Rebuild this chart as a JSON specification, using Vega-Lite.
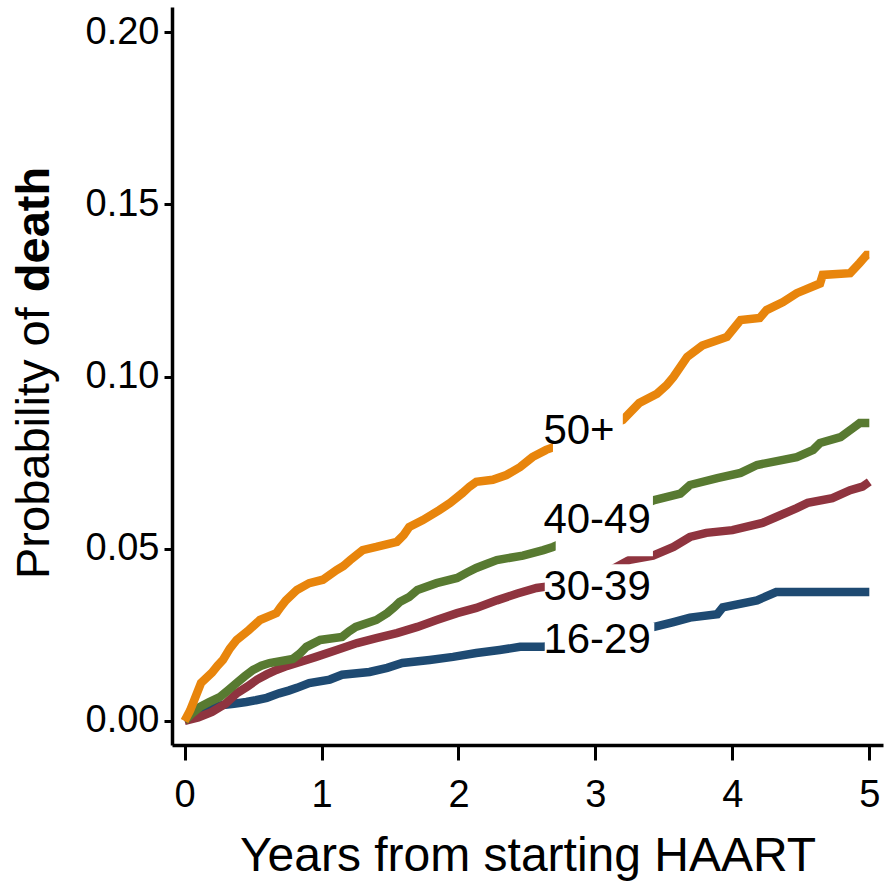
{
  "$schema": "https://vega.github.io/schema/vega-lite/v6.json",
  "width": 711,
  "height": 738,
  "autosize": {"type": "none"},
  "padding": {"left": 172, "top": 7, "right": 4, "bottom": 139},
  "background": "white",
  "config": {
    "view": {"stroke": null},
    "font": "Liberation Sans",
    "axis": {
      "grid": false,
      "domainColor": "black",
      "domainWidth": 3.5,
      "tickColor": "black",
      "tickWidth": 3,
      "labelColor": "black",
      "labelFont": "Liberation Sans",
      "labelFontSize": 38,
      "labelFlush": false,
      "labelOverlap": false,
      "titleFont": "Liberation Sans",
      "titleColor": "black",
      "titleFontWeight": "normal"
    }
  },
  "datasets": {
    "km": [
      {"group": "16-29", "t": 0, "p": 0},
      {"group": "16-29", "t": 0.05, "p": 0.0015},
      {"group": "16-29", "t": 0.13, "p": 0.003},
      {"group": "16-29", "t": 0.2, "p": 0.004},
      {"group": "16-29", "t": 0.28, "p": 0.0046},
      {"group": "16-29", "t": 0.36, "p": 0.005},
      {"group": "16-29", "t": 0.45, "p": 0.0055},
      {"group": "16-29", "t": 0.52, "p": 0.006},
      {"group": "16-29", "t": 0.6, "p": 0.0067},
      {"group": "16-29", "t": 0.69, "p": 0.008},
      {"group": "16-29", "t": 0.76, "p": 0.0088},
      {"group": "16-29", "t": 0.82, "p": 0.0096},
      {"group": "16-29", "t": 0.91, "p": 0.011},
      {"group": "16-29", "t": 1.06, "p": 0.012},
      {"group": "16-29", "t": 1.15, "p": 0.0134},
      {"group": "16-29", "t": 1.35, "p": 0.0142},
      {"group": "16-29", "t": 1.48, "p": 0.0154},
      {"group": "16-29", "t": 1.59, "p": 0.0168},
      {"group": "16-29", "t": 1.79, "p": 0.0177},
      {"group": "16-29", "t": 1.96, "p": 0.0186},
      {"group": "16-29", "t": 2.13, "p": 0.0197},
      {"group": "16-29", "t": 2.3, "p": 0.0206},
      {"group": "16-29", "t": 2.45, "p": 0.0215},
      {"group": "16-29", "t": 2.62, "p": 0.0215},
      {"group": "16-29", "t": 2.8, "p": 0.023},
      {"group": "16-29", "t": 3.0, "p": 0.024},
      {"group": "16-29", "t": 3.2, "p": 0.026},
      {"group": "16-29", "t": 3.43, "p": 0.0273},
      {"group": "16-29", "t": 3.57, "p": 0.0287},
      {"group": "16-29", "t": 3.69, "p": 0.03},
      {"group": "16-29", "t": 3.89, "p": 0.031},
      {"group": "16-29", "t": 3.93, "p": 0.033},
      {"group": "16-29", "t": 4.18, "p": 0.035},
      {"group": "16-29", "t": 4.32, "p": 0.0374},
      {"group": "16-29", "t": 5.0, "p": 0.0374},

      {"group": "30-39", "t": 0, "p": 0},
      {"group": "30-39", "t": 0.1, "p": 0.001},
      {"group": "30-39", "t": 0.2, "p": 0.0026},
      {"group": "30-39", "t": 0.3, "p": 0.005},
      {"group": "30-39", "t": 0.38, "p": 0.008},
      {"group": "30-39", "t": 0.46, "p": 0.01},
      {"group": "30-39", "t": 0.53, "p": 0.012},
      {"group": "30-39", "t": 0.6, "p": 0.0135},
      {"group": "30-39", "t": 0.67, "p": 0.0148},
      {"group": "30-39", "t": 0.75, "p": 0.016},
      {"group": "30-39", "t": 0.82, "p": 0.0168},
      {"group": "30-39", "t": 0.96, "p": 0.0186},
      {"group": "30-39", "t": 1.11, "p": 0.0206},
      {"group": "30-39", "t": 1.26, "p": 0.0226},
      {"group": "30-39", "t": 1.4, "p": 0.024},
      {"group": "30-39", "t": 1.55, "p": 0.0255},
      {"group": "30-39", "t": 1.7, "p": 0.0273},
      {"group": "30-39", "t": 1.84, "p": 0.0293},
      {"group": "30-39", "t": 1.99, "p": 0.0313},
      {"group": "30-39", "t": 2.13, "p": 0.0328},
      {"group": "30-39", "t": 2.28, "p": 0.035},
      {"group": "30-39", "t": 2.43, "p": 0.037},
      {"group": "30-39", "t": 2.57, "p": 0.0386},
      {"group": "30-39", "t": 2.64, "p": 0.039},
      {"group": "30-39", "t": 2.8, "p": 0.04},
      {"group": "30-39", "t": 3.0, "p": 0.042},
      {"group": "30-39", "t": 3.1, "p": 0.0435},
      {"group": "30-39", "t": 3.25, "p": 0.0468},
      {"group": "30-39", "t": 3.42, "p": 0.048},
      {"group": "30-39", "t": 3.57, "p": 0.0505},
      {"group": "30-39", "t": 3.69, "p": 0.0534},
      {"group": "30-39", "t": 3.81, "p": 0.0546},
      {"group": "30-39", "t": 4.0, "p": 0.0554},
      {"group": "30-39", "t": 4.22, "p": 0.0575},
      {"group": "30-39", "t": 4.32, "p": 0.0592},
      {"group": "30-39", "t": 4.47, "p": 0.0618},
      {"group": "30-39", "t": 4.55, "p": 0.0633},
      {"group": "30-39", "t": 4.73, "p": 0.0647},
      {"group": "30-39", "t": 4.86, "p": 0.067},
      {"group": "30-39", "t": 4.95, "p": 0.068},
      {"group": "30-39", "t": 5.0, "p": 0.0694},

      {"group": "40-49", "t": 0, "p": 0},
      {"group": "40-49", "t": 0.05, "p": 0.002},
      {"group": "40-49", "t": 0.11, "p": 0.004},
      {"group": "40-49", "t": 0.18, "p": 0.0055},
      {"group": "40-49", "t": 0.26, "p": 0.007},
      {"group": "40-49", "t": 0.32, "p": 0.009},
      {"group": "40-49", "t": 0.38, "p": 0.011},
      {"group": "40-49", "t": 0.44, "p": 0.013},
      {"group": "40-49", "t": 0.5, "p": 0.0148},
      {"group": "40-49", "t": 0.56, "p": 0.016},
      {"group": "40-49", "t": 0.62, "p": 0.0168},
      {"group": "40-49", "t": 0.79, "p": 0.018},
      {"group": "40-49", "t": 0.84, "p": 0.0195},
      {"group": "40-49", "t": 0.89, "p": 0.0215},
      {"group": "40-49", "t": 0.99, "p": 0.0235},
      {"group": "40-49", "t": 1.15, "p": 0.0244},
      {"group": "40-49", "t": 1.2, "p": 0.026},
      {"group": "40-49", "t": 1.25, "p": 0.0273},
      {"group": "40-49", "t": 1.4, "p": 0.0293},
      {"group": "40-49", "t": 1.48, "p": 0.0313},
      {"group": "40-49", "t": 1.53, "p": 0.033},
      {"group": "40-49", "t": 1.57, "p": 0.0345},
      {"group": "40-49", "t": 1.64, "p": 0.036},
      {"group": "40-49", "t": 1.7, "p": 0.038},
      {"group": "40-49", "t": 1.84, "p": 0.04},
      {"group": "40-49", "t": 1.99, "p": 0.0415},
      {"group": "40-49", "t": 2.06, "p": 0.043},
      {"group": "40-49", "t": 2.13, "p": 0.0444},
      {"group": "40-49", "t": 2.2, "p": 0.0455},
      {"group": "40-49", "t": 2.28, "p": 0.0467},
      {"group": "40-49", "t": 2.47, "p": 0.048},
      {"group": "40-49", "t": 2.62, "p": 0.0496},
      {"group": "40-49", "t": 2.69, "p": 0.0505},
      {"group": "40-49", "t": 2.9, "p": 0.054},
      {"group": "40-49", "t": 3.1, "p": 0.058},
      {"group": "40-49", "t": 3.3, "p": 0.062},
      {"group": "40-49", "t": 3.43, "p": 0.0641},
      {"group": "40-49", "t": 3.62, "p": 0.066},
      {"group": "40-49", "t": 3.69, "p": 0.0685},
      {"group": "40-49", "t": 3.89, "p": 0.0705},
      {"group": "40-49", "t": 4.06, "p": 0.072},
      {"group": "40-49", "t": 4.18, "p": 0.0743},
      {"group": "40-49", "t": 4.37, "p": 0.0758},
      {"group": "40-49", "t": 4.47, "p": 0.0766},
      {"group": "40-49", "t": 4.59, "p": 0.0787},
      {"group": "40-49", "t": 4.64, "p": 0.0807},
      {"group": "40-49", "t": 4.79, "p": 0.0824},
      {"group": "40-49", "t": 4.88, "p": 0.085},
      {"group": "40-49", "t": 4.93, "p": 0.0865},
      {"group": "40-49", "t": 5.0, "p": 0.0865},

      {"group": "50+", "t": 0, "p": 0},
      {"group": "50+", "t": 0.04, "p": 0.003},
      {"group": "50+", "t": 0.07, "p": 0.006},
      {"group": "50+", "t": 0.12, "p": 0.011},
      {"group": "50+", "t": 0.2, "p": 0.014},
      {"group": "50+", "t": 0.24, "p": 0.016},
      {"group": "50+", "t": 0.28, "p": 0.0177},
      {"group": "50+", "t": 0.33, "p": 0.021},
      {"group": "50+", "t": 0.38, "p": 0.0235},
      {"group": "50+", "t": 0.47, "p": 0.0264},
      {"group": "50+", "t": 0.55, "p": 0.0293},
      {"group": "50+", "t": 0.67, "p": 0.0313},
      {"group": "50+", "t": 0.7, "p": 0.033},
      {"group": "50+", "t": 0.74, "p": 0.035},
      {"group": "50+", "t": 0.82, "p": 0.038},
      {"group": "50+", "t": 0.91, "p": 0.04},
      {"group": "50+", "t": 1.01, "p": 0.041},
      {"group": "50+", "t": 1.11, "p": 0.0438},
      {"group": "50+", "t": 1.16, "p": 0.045},
      {"group": "50+", "t": 1.21, "p": 0.0467},
      {"group": "50+", "t": 1.3, "p": 0.0496},
      {"group": "50+", "t": 1.4, "p": 0.0505},
      {"group": "50+", "t": 1.55, "p": 0.052},
      {"group": "50+", "t": 1.6, "p": 0.054},
      {"group": "50+", "t": 1.64, "p": 0.0563},
      {"group": "50+", "t": 1.74, "p": 0.0583},
      {"group": "50+", "t": 1.86, "p": 0.0612},
      {"group": "50+", "t": 1.94, "p": 0.0633},
      {"group": "50+", "t": 2.03, "p": 0.0662},
      {"group": "50+", "t": 2.08, "p": 0.068},
      {"group": "50+", "t": 2.13, "p": 0.0694},
      {"group": "50+", "t": 2.25, "p": 0.07},
      {"group": "50+", "t": 2.35, "p": 0.0714},
      {"group": "50+", "t": 2.45, "p": 0.0737},
      {"group": "50+", "t": 2.54, "p": 0.0766},
      {"group": "50+", "t": 2.64, "p": 0.0787},
      {"group": "50+", "t": 2.8, "p": 0.081},
      {"group": "50+", "t": 3.0, "p": 0.084},
      {"group": "50+", "t": 3.2, "p": 0.0874},
      {"group": "50+", "t": 3.32, "p": 0.0923},
      {"group": "50+", "t": 3.45, "p": 0.095},
      {"group": "50+", "t": 3.52, "p": 0.0975},
      {"group": "50+", "t": 3.57, "p": 0.0999},
      {"group": "50+", "t": 3.67, "p": 0.1057},
      {"group": "50+", "t": 3.78, "p": 0.109},
      {"group": "50+", "t": 3.96, "p": 0.1115},
      {"group": "50+", "t": 4.06, "p": 0.1164},
      {"group": "50+", "t": 4.2, "p": 0.117},
      {"group": "50+", "t": 4.25, "p": 0.1193},
      {"group": "50+", "t": 4.37, "p": 0.1216},
      {"group": "50+", "t": 4.47, "p": 0.1242},
      {"group": "50+", "t": 4.64, "p": 0.127},
      {"group": "50+", "t": 4.66, "p": 0.1295},
      {"group": "50+", "t": 4.86, "p": 0.13},
      {"group": "50+", "t": 4.93, "p": 0.133},
      {"group": "50+", "t": 4.98, "p": 0.1353},
      {"group": "50+", "t": 5.0, "p": 0.1353}
    ],
    "labels": [
      {"group": "50+", "t": 2.62, "p": 0.0842, "t0": 2.69, "t1": 3.2, "p0": 0.0775, "p1": 0.0915},
      {"group": "40-49", "t": 2.62, "p": 0.0582, "t0": 2.71, "t1": 3.42, "p0": 0.0478, "p1": 0.066},
      {"group": "30-39", "t": 2.62, "p": 0.0388, "t0": 2.63, "t1": 3.42, "p0": 0.0295, "p1": 0.0455},
      {"group": "16-29", "t": 2.62, "p": 0.0235, "t0": 2.63, "t1": 3.43, "p0": 0.018, "p1": 0.0285}
    ],
    "one": [{}]
  },
  "layer": [
    {
      "data": {"name": "km"},
      "mark": {"type": "line", "interpolate": "linear", "strokeWidth": 8.5, "strokeJoin": "miter", "strokeCap": "butt"},
      "encoding": {
        "x": {
          "field": "t", "type": "quantitative",
          "scale": {"domain": [-0.092, 5.1], "nice": false, "zero": false},
          "axis": {
            "values": [0, 1, 2, 3, 4, 5], "format": "d",
            "tickSize": 15, "labelPadding": 16,
            "title": "Years from starting HAART", "titleFontSize": 48, "titlePadding": 18
          }
        },
        "y": {
          "field": "p", "type": "quantitative",
          "scale": {"domain": [-0.007, 0.2073], "nice": false, "zero": false},
          "axis": {
            "values": [0, 0.05, 0.1, 0.15, 0.2], "format": ".2f",
            "tickSize": 8, "labelPadding": 5, "title": null
          }
        },
        "color": {
          "field": "group", "type": "nominal",
          "scale": {"domain": ["16-29", "30-39", "40-49", "50+"], "range": ["#1E4A72", "#8F343F", "#587A31", "#E8850C"]},
          "legend": null
        }
      }
    },
    {
      "data": {"name": "labels"},
      "mark": {"type": "rect", "color": "white"},
      "encoding": {
        "x": {"field": "t0", "type": "quantitative"},
        "x2": {"field": "t1"},
        "y": {"field": "p0", "type": "quantitative"},
        "y2": {"field": "p1"}
      }
    },
    {
      "data": {"name": "labels"},
      "mark": {"type": "text", "align": "left", "baseline": "middle", "fontSize": 42, "font": "Liberation Sans", "color": "black"},
      "encoding": {
        "x": {"field": "t", "type": "quantitative"},
        "y": {"field": "p", "type": "quantitative"},
        "text": {"field": "group"}
      }
    },
    {
      "data": {"name": "one"},
      "mark": {"type": "text", "angle": 270, "align": "left", "baseline": "middle", "fontSize": 47, "font": "Liberation Sans", "color": "black"},
      "encoding": {
        "x": {"datum": -1.096},
        "y": {"datum": 0.0412},
        "text": {"value": "Probability of"}
      }
    },
    {
      "data": {"name": "one"},
      "mark": {"type": "text", "angle": 270, "align": "left", "baseline": "middle", "fontSize": 47, "fontWeight": "bold", "font": "Liberation Sans", "color": "black"},
      "encoding": {
        "x": {"datum": -1.096},
        "y": {"datum": 0.1245},
        "text": {"value": "death"}
      }
    }
  ]
}
